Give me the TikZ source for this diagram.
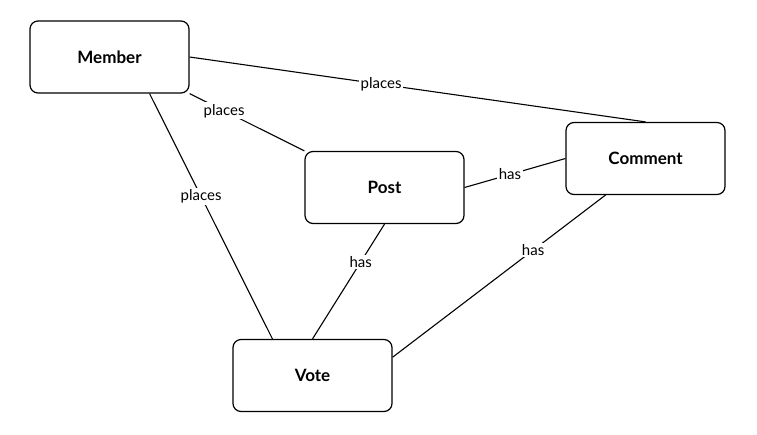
\documentclass[tikz,border=0pt]{standalone}
\usepackage{fontspec}
\setmainfont{Lato}
\usetikzlibrary{calc}
\tikzset{
  entity/.style={draw, line width=1.2pt, rounded corners=8pt, minimum width=159pt, minimum height=72pt, inner sep=0pt, font=\fontsize{17}{20}\selectfont\bfseries},
  rel/.style={line width=1.1pt},
  lbl/.style={fill=white, inner sep=1.5pt, font=\fontsize{15}{17}\selectfont}
}
\begin{document}
\begin{tikzpicture}[x=1pt,y=-1pt]
\useasboundingbox (0,0) rectangle (757,434);
\node[entity] (member) at (109.5,57) {Member};
\node[entity] (post) at (384.5,187.5) {Post};
\node[entity] (comment) at (645.5,158.5) {Comment};
\node[entity] (vote) at (312.5,375.5) {Vote};
\coordinate (mvA) at ($(member.south)!0.5!(member.south east)$);
\coordinate (mvB) at ($(vote.north)!0.5!(vote.north west)$);
\coordinate (cvA) at ($(comment.south)!0.5!(comment.south west)$);
\coordinate (cvB) at ($(vote.east)!0.5!(vote.north east)$);
\draw[rel] (member.east) -- node[lbl, pos=0.42] {places} (comment.north);
\draw[rel] (member.south east) -- node[lbl, pos=0.3] {places} (post.north west);
\draw[rel] (mvA) -- node[lbl, pos=0.42] {places} (mvB);
\draw[rel] (post.east) -- node[lbl, pos=0.45] {has} (comment.west);
\draw[rel] (post.south) -- node[lbl, pos=0.33] {has} (vote.north);
\draw[rel] (cvA) -- node[lbl, pos=0.34] {has} (cvB);
\end{tikzpicture}
\end{document}
